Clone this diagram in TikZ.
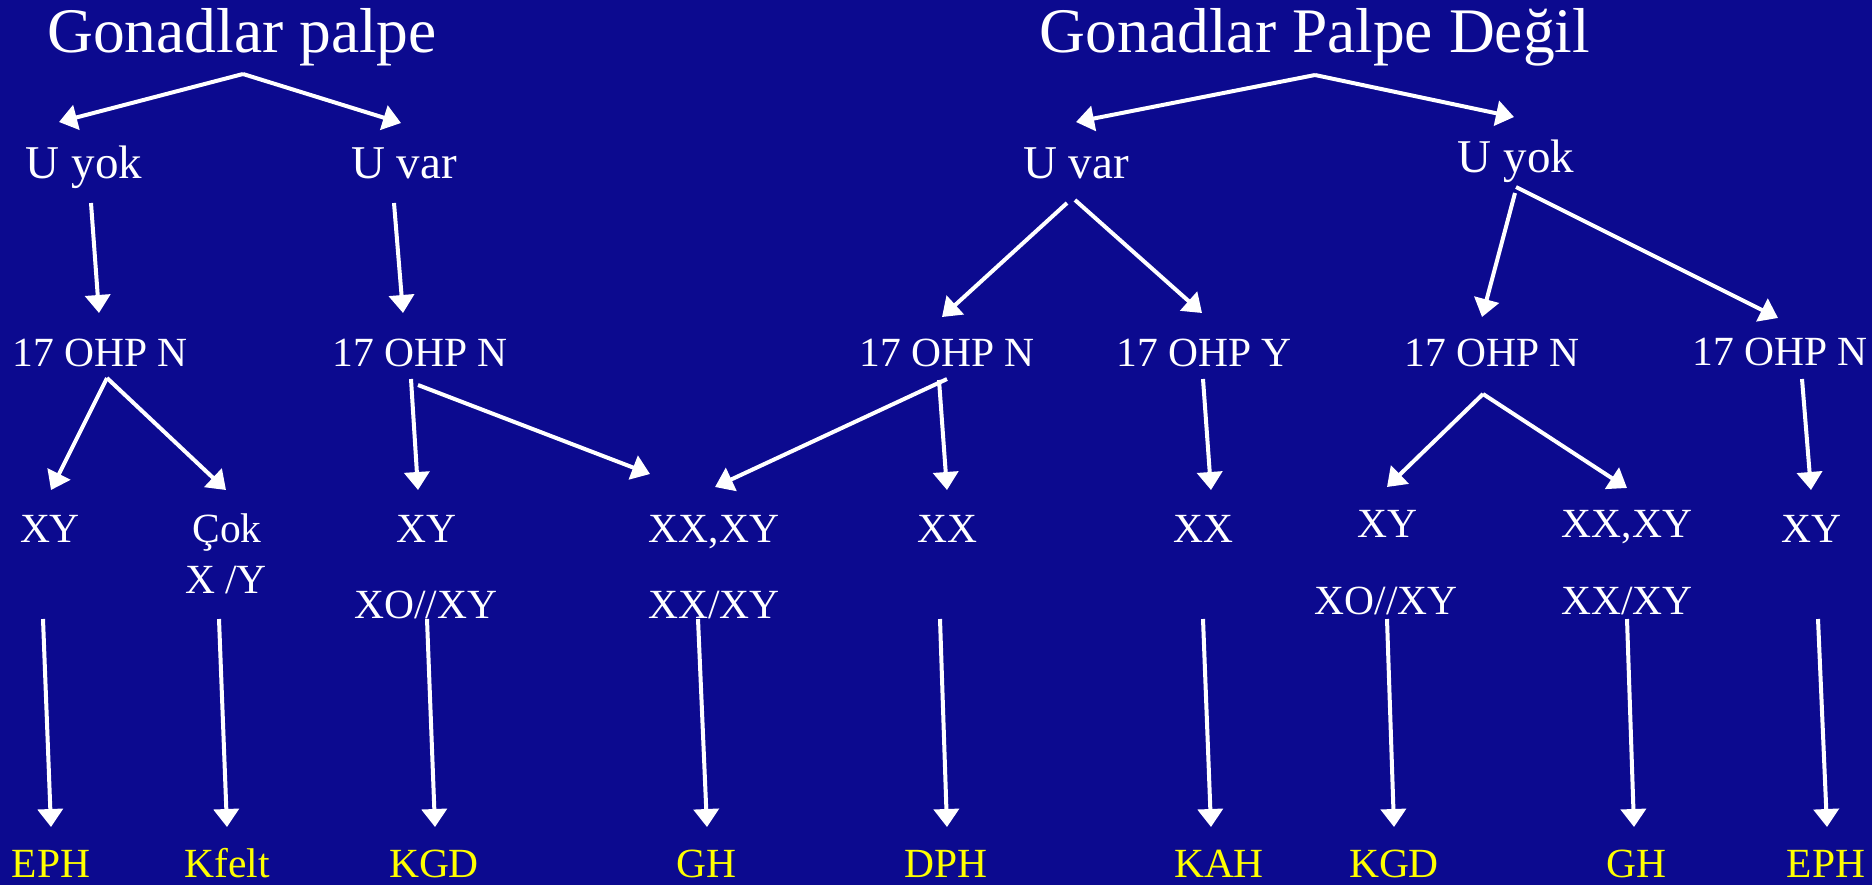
\documentclass[tikz,border=0pt]{standalone}
\usepackage{fontspec}
\setmainfont{Liberation Serif}
\usetikzlibrary{arrows.meta}
\definecolor{bgblue}{RGB}{12,10,143}
\definecolor{lblyellow}{RGB}{255,255,0}
\tikzset{
  ttl/.style={anchor=base,inner sep=0pt,text=white,font=\fontsize{31.75}{38}\selectfont},
  lvlone/.style={anchor=base,inner sep=0pt,text=white,font=\fontsize{23.5}{28}\selectfont},
  lbl/.style={anchor=base,inner sep=0pt,text=white,font=\fontsize{20.75}{25}\selectfont},
  res/.style={anchor=base,inner sep=0pt,text=lblyellow,font=\fontsize{20.75}{25}\selectfont},
  arr/.style={draw=white,line width=2pt,-{Triangle[length=9pt,width=12.5pt]}},
}
\begin{document}
\begin{tikzpicture}[x=0.5pt,y=-0.5pt]
\fill[bgblue] (0,0) rectangle (1872,885);
\useasboundingbox (0,0) rectangle (1872,885);
% titles
\node[ttl] (t1) at (242,52) {Gonadlar palpe};
\node[ttl] (t2) at (1315,52) {Gonadlar Palpe Değil};
% level 1
\node[lvlone] (uyokL) at (84,178) {U yok};
\node[lvlone] (uvarL) at (404,178) {U var};
\node[lvlone] (uvarR) at (1076,178) {U var};
\node[lvlone] (uyokR) at (1516,172) {U yok};
% level 2
\node[lbl] (oa) at (100,366) {17 OHP N};
\node[lbl] (ob) at (420,366) {17 OHP N};
\node[lbl] (oc) at (947,366) {17 OHP N};
\node[lbl] (od) at (1204,366) {17 OHP Y};
\node[lbl] (oe) at (1492,366) {17 OHP N};
\node[lbl] (of) at (1780,365) {17 OHP N};
% level 3
\node[lbl] (k1) at (50,542) {XY};
\node[lbl] (k2) at (227,542) {Çok};
\node[lbl] (k2b) at (226,593) {X /Y};
\node[lbl] (k3) at (426,542) {XY};
\node[lbl] (k3b) at (426,618) {XO//XY};
\node[lbl] (k4) at (714,542) {XX,XY};
\node[lbl] (k4b) at (714,618) {XX/XY};
\node[lbl] (k5) at (947,542) {XX};
\node[lbl] (k6) at (1203,542) {XX};
\node[lbl] (k7) at (1387,537) {XY};
\node[lbl] (k7b) at (1386,614) {XO//XY};
\node[lbl] (k8) at (1627,537) {XX,XY};
\node[lbl] (k8b) at (1627,614) {XX/XY};
\node[lbl] (k9) at (1811,542) {XY};
% results
\node[res] (r1) at (51,877) {EPH};
\node[res] (r2) at (227,877) {Kfelt};
\node[res] (r3) at (434,877) {KGD};
\node[res] (r4) at (706,877) {GH};
\node[res] (r5) at (946,877) {DPH};
\node[res] (r6) at (1219,877) {KAH};
\node[res] (r7) at (1394,877) {KGD};
\node[res] (r8) at (1636,877) {GH};
\node[res] (r9) at (1826,877) {EPH};
% connector end points
\coordinate (t1o) at (243,74);
\coordinate (t2o) at (1315,75);
\coordinate (uyokLi) at (59,122);
\coordinate (uvarLi) at (401,123);
\coordinate (uvarRi) at (1076,122);
\coordinate (uyokRi) at (1514,117);
\coordinate (uyokLo) at (91,203);
\coordinate (uvarLo) at (394,203);
\coordinate (uvarRo1) at (1067,203);
\coordinate (uvarRo2) at (1075,200);
\coordinate (uyokRo1) at (1515,193);
\coordinate (uyokRo2) at (1516,187);
\coordinate (oai) at (99,313);
\coordinate (obi) at (403,313);
\coordinate (oci) at (942,317);
\coordinate (odi) at (1202,313);
\coordinate (oei) at (1482,317);
\coordinate (ofi) at (1778,318);
\coordinate (oao) at (107,378);
\coordinate (obo1) at (411,379);
\coordinate (obo2) at (418,385);
\coordinate (oco1) at (947,379);
\coordinate (oco2) at (939,380);
\coordinate (odo) at (1203,379);
\coordinate (oeo) at (1483,394);
\coordinate (ofo) at (1802,379);
\coordinate (k1i) at (51,490);
\coordinate (k2i) at (226,490);
\coordinate (k3i) at (418,490);
\coordinate (k4i1) at (650,474);
\coordinate (k4i2) at (715,487);
\coordinate (k5i) at (947,490);
\coordinate (k6i) at (1211,490);
\coordinate (k7i) at (1387,487);
\coordinate (k8i) at (1627,488);
\coordinate (k9i) at (1811,490);
% top branches
\draw[arr] (t1o) -- (uyokLi);
\draw[arr] (t1o) -- (uvarLi);
\draw[arr] (t2o) -- (uvarRi);
\draw[arr] (t2o) -- (uyokRi);
% level 1 -> level 2
\draw[arr] (uyokLo) -- (oai);
\draw[arr] (uvarLo) -- (obi);
\draw[arr] (uvarRo1) -- (oci);
\draw[arr] (uvarRo2) -- (odi);
\draw[arr] (uyokRo1) -- (oei);
\draw[arr] (uyokRo2) -- (ofi);
% level 2 -> level 3
\draw[arr] (oao) -- (k1i);
\draw[arr] (oao) -- (k2i);
\draw[arr] (obo1) -- (k3i);
\draw[arr] (obo2) -- (k4i1);
\draw[arr] (oco1) -- (k4i2);
\draw[arr] (oco2) -- (k5i);
\draw[arr] (odo) -- (k6i);
\draw[arr] (oeo) -- (k7i);
\draw[arr] (oeo) -- (k8i);
\draw[arr] (ofo) -- (k9i);
% level 3 -> results
\foreach \s/\e/\n in {43/51/1,219/227/2,427/435/3,698/707/4,940/947/5,1203/1211/6,1387/1394/7,1627/1634/8,1818/1827/9}{
  \coordinate (k\n o) at (\s,619);
  \coordinate (r\n i) at (\e,827);
  \draw[arr] (k\n o) -- (r\n i);
}
\end{tikzpicture}
\end{document}
